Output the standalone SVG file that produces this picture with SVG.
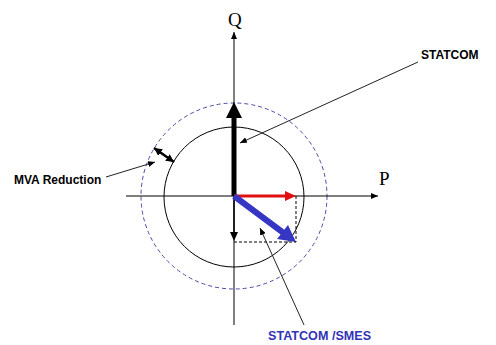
<svg xmlns="http://www.w3.org/2000/svg" width="496" height="345" viewBox="0 0 496 345">
<style>
.axis{stroke:#000;stroke-width:1;fill:none}
.ptr{stroke:#222;stroke-width:1;fill:none}
.dash{stroke:#000;stroke-width:1;fill:none;stroke-dasharray:3,2}
.lbl{font-family:"Liberation Sans",Arial,sans-serif;font-weight:bold;font-size:12px;fill:#000}
.ax{font-family:"Liberation Serif","Times New Roman",serif;font-size:19px;fill:#000}
</style>
<defs>
<marker id="sm" markerUnits="userSpaceOnUse" markerWidth="8" markerHeight="6" refX="7" refY="3" orient="auto"><path d="M0,0 L7,3 L0,6 Z" fill="#000"/></marker>
<marker id="db" markerUnits="userSpaceOnUse" markerWidth="9" markerHeight="8" refX="8" refY="4" orient="auto-start-reverse"><path d="M0,0 L8,4 L0,8 Z" fill="#000"/></marker>
</defs>
<rect width="496" height="345" fill="#fff"/>
<g id="circles">
<circle id="dashed-circle" cx="234" cy="196" r="93" fill="none" stroke="#4a4aa8" stroke-width="1" stroke-dasharray="4,3"/>
<circle id="solid-circle" cx="234" cy="197" r="70" fill="none" stroke="#000" stroke-width="1"/>
</g>
<g id="axes">
<line class="axis" x1="234" y1="325" x2="234" y2="32" marker-end="url(#sm)"/>
<line class="axis" x1="126" y1="196" x2="378" y2="196" marker-end="url(#sm)"/>
<text class="ax" x="228" y="26">Q</text>
<text class="ax" x="379" y="185">P</text>
</g>
<g id="vectors">
<line x1="234" y1="196" x2="234" y2="117" stroke="#000" stroke-width="5"/>
<path d="M234,102 L242,118 L226,118 Z" fill="#000"/>
<line x1="234" y1="196" x2="234" y2="233" stroke="#000" stroke-width="1.5"/>
<path d="M234,241 L238,232 L230,232 Z" fill="#000"/>
<line x1="234" y1="196" x2="286" y2="196" stroke="#e01010" stroke-width="3"/>
<path d="M296,196 L285,191 L285,201 Z" fill="#e01010"/>
<line x1="234" y1="196" x2="285" y2="234" stroke="#3636c4" stroke-width="6"/>
<path d="M296,242 L277,239 L288,225 Z" fill="#3636c4"/>
<path class="dash" d="M296,196 V242 H234"/>
</g>
<g id="connectors">
<line class="ptr" x1="418" y1="62" x2="240" y2="143" marker-end="url(#sm)"/>
<line class="ptr" x1="106" y1="177" x2="155" y2="162" marker-end="url(#sm)"/>
<line class="ptr" x1="304" y1="325" x2="260" y2="228" marker-end="url(#sm)"/>
<line x1="154" y1="148" x2="174" y2="162" stroke="#000" stroke-width="2.5" marker-start="url(#db)" marker-end="url(#db)"/>
</g>
<g id="label-statcom"><text class="lbl" x="421" y="59">STATCOM</text></g>
<g id="label-mva"><text class="lbl" x="14" y="184">MVA Reduction</text></g>
<g id="label-smes"><text class="lbl" x="268" y="340" style="fill:#3333b8;font-size:12.6px">STATCOM /SMES</text></g>
</svg>
